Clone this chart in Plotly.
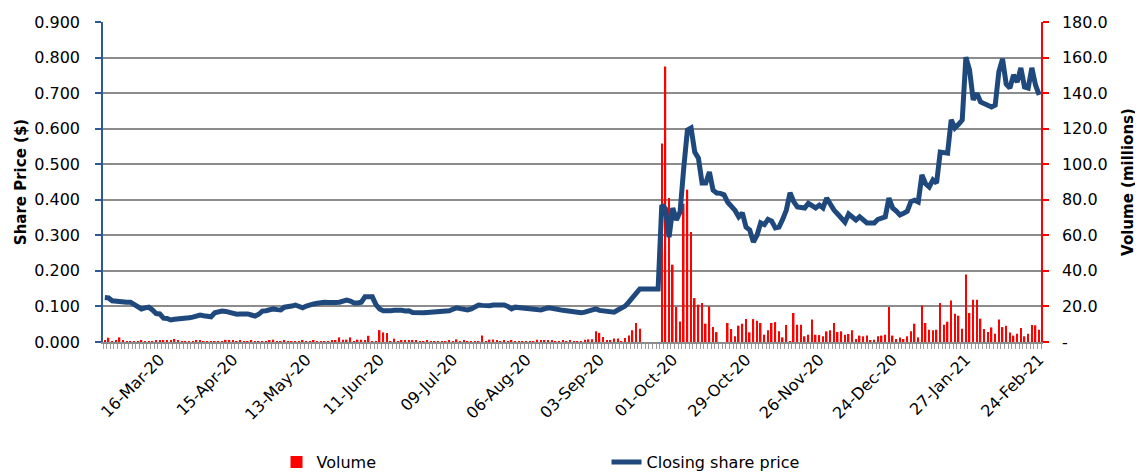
import pandas as pd
import plotly.graph_objects as go

# ASX trading days, 24-Feb-2020 .. 24-Feb-2021
asx_holidays = ["2020-04-10", "2020-04-13", "2020-06-08", "2020-12-25",
                "2020-12-28", "2021-01-01", "2021-01-26"]
trading_days = pd.bdate_range("2020-02-24", "2021-02-24", freq="C", holidays=asx_holidays)
dates = [d.strftime("%d-%b-%y") for d in trading_days]

tick_labels = ["16-Mar-20", "15-Apr-20", "13-May-20", "11-Jun-20", "09-Jul-20",
               "06-Aug-20", "03-Sep-20", "01-Oct-20", "29-Oct-20", "26-Nov-20",
               "24-Dec-20", "27-Jan-21", "24-Feb-21"]

closing_price = [
    0.125, 0.124, 0.116, 0.115, 0.113, 0.110, 0.112, 0.112, 0.105, 0.096,
    0.093, 0.096, 0.098, 0.090, 0.080, 0.079, 0.067, 0.066, 0.062, 0.064,
    0.065, 0.063, 0.066, 0.068, 0.070, 0.072, 0.076, 0.074, 0.071, 0.071,
    0.082, 0.085, 0.087, 0.086, 0.083, 0.079, 0.078, 0.079, 0.080, 0.079,
    0.076, 0.073, 0.078, 0.087, 0.088, 0.092, 0.093, 0.091, 0.090, 0.098,
    0.098, 0.101, 0.104, 0.100, 0.096, 0.101, 0.105, 0.107, 0.109, 0.111,
    0.112, 0.111, 0.110, 0.111, 0.112, 0.115, 0.118, 0.115, 0.110, 0.110,
    0.112, 0.127, 0.128, 0.127, 0.105, 0.093, 0.088, 0.087, 0.088, 0.089,
    0.090, 0.089, 0.087, 0.088, 0.083, 0.082, 0.082, 0.082, 0.083, 0.084,
    0.084, 0.085, 0.084, 0.087, 0.088, 0.092, 0.096, 0.094, 0.093, 0.090,
    0.093, 0.097, 0.104, 0.103, 0.101, 0.102, 0.104, 0.104, 0.105, 0.104,
    0.100, 0.093, 0.098, 0.097, 0.096, 0.096, 0.095, 0.094, 0.092, 0.090,
    0.093, 0.096, 0.095, 0.092, 0.090, 0.089, 0.088, 0.086, 0.084, 0.083,
    0.082, 0.084, 0.087, 0.090, 0.093, 0.089, 0.087, 0.086, 0.085, 0.084,
    0.090, 0.095, 0.101, 0.112, 0.124, 0.138, 0.149, 0.149, 0.149, 0.149,
    0.149, 0.149, 0.385, 0.375, 0.295, 0.377, 0.343, 0.366, 0.490, 0.596,
    0.602, 0.534, 0.517, 0.447, 0.447, 0.478, 0.427, 0.419, 0.418, 0.414,
    0.393, 0.382, 0.370, 0.352, 0.363, 0.323, 0.315, 0.281, 0.300, 0.335,
    0.330, 0.345, 0.340, 0.321, 0.323, 0.345, 0.371, 0.420, 0.395, 0.380,
    0.377, 0.377, 0.390, 0.385, 0.377, 0.385, 0.377, 0.405, 0.385, 0.371,
    0.360, 0.350, 0.337, 0.360, 0.350, 0.343, 0.352, 0.343, 0.335, 0.335,
    0.335, 0.345, 0.349, 0.352, 0.405, 0.377, 0.368, 0.357, 0.362, 0.368,
    0.395, 0.399, 0.394, 0.470, 0.445, 0.436, 0.456, 0.447, 0.534, 0.533,
    0.531, 0.625, 0.602, 0.612, 0.624, 0.801, 0.765, 0.681, 0.700, 0.675,
    0.670, 0.665, 0.661, 0.666, 0.760, 0.796, 0.725, 0.714, 0.751, 0.731,
    0.771, 0.717, 0.714, 0.771, 0.723, 0.695,
]

volume_millions = [
    0.6, 2.4, 0.5, 0.8, 2.6, 0.9, 0.4, 0.3, 0.5, 0.3,
    1.0, 0.4, 0.3, 0.5, 0.8, 0.6, 1.1, 0.7, 0.9, 1.7,
    0.6, 0.5, 0.4, 0.3, 0.5, 0.9, 1.0, 0.4, 0.3, 0.2,
    0.3, 0.3, 0.4, 1.2, 1.0, 0.6, 0.3, 1.1, 0.4, 0.3,
    1.1, 0.4, 0.3, 0.3, 0.5, 1.0, 1.3, 0.5, 0.4, 0.7,
    0.5, 0.3, 0.5, 0.3, 0.9, 0.4, 0.3, 0.6, 0.3, 0.4,
    0.5, 0.3, 0.9, 1.0, 2.6, 1.3, 1.3, 2.6, 0.4, 1.3,
    1.3, 0.6, 3.5, 0.2, 0.3, 6.7, 5.4, 5.0, 0.3, 1.9,
    0.2, 1.0, 0.6, 1.0, 0.9, 0.7, 0.3, 0.4, 0.8, 0.4,
    0.3, 0.2, 0.5, 0.4, 0.9, 0.3, 1.5, 0.4, 0.6, 0.3,
    0.5, 0.4, 0.4, 3.7, 0.5, 1.3, 1.4, 0.8, 0.4, 0.7,
    0.5, 0.6, 0.4, 0.5, 0.4, 0.3, 0.5, 0.4, 1.2, 1.0,
    0.6, 0.7, 0.8, 0.5, 0.4, 1.0, 0.5, 0.6, 0.4, 0.3,
    0.5, 1.2, 1.5, 1.5, 6.0, 5.1, 2.8, 1.0, 1.0, 1.9,
    1.9, 0.3, 2.2, 3.7, 6.6, 10.7, 7.5, 0.0, 0.0, 0.0,
    0.0, 0.0, 111.6, 155.0, 81.0, 43.5, 19.7, 11.6, 77.8, 85.7,
    61.9, 24.7, 21.0, 22.0, 10.3, 20.0, 8.4, 5.6, 0.0, 0.0,
    10.7, 7.3, 3.2, 9.2, 10.3, 12.9, 5.4, 12.9, 12.0, 10.7,
    4.1, 6.6, 10.7, 11.2, 6.0, 2.6, 9.6, 0.4, 16.3, 9.7,
    9.7, 3.2, 4.1, 12.6, 4.1, 3.9, 3.2, 6.0, 6.6, 10.7,
    5.6, 6.0, 4.1, 4.5, 6.6, 1.7, 3.6, 3.2, 3.6, 1.0,
    1.3, 3.2, 3.6, 4.1, 19.7, 3.6, 1.7, 2.6, 1.7, 3.2,
    6.0, 10.3, 2.6, 20.6, 10.7, 6.9, 6.6, 6.9, 21.9, 9.7,
    11.4, 23.4, 15.9, 14.8, 7.5, 37.9, 16.3, 23.8, 23.8, 13.1,
    7.3, 5.6, 8.2, 4.7, 12.6, 8.4, 9.2, 5.4, 3.6, 4.7,
    7.9, 3.2, 4.7, 9.6, 9.4, 6.9,
]

volume_ticks = [0, 20, 40, 60, 80, 100, 120, 140, 160, 180]
volume_tick_text = ["-" if v == 0 else f"{v:.1f}" for v in volume_ticks]

FONT = "DejaVu Sans"
GRID = "#8c8c8c"
LINE_BLUE = "#1F497D"

fig = go.Figure()
fig.add_trace(go.Bar(
    x=dates, y=volume_millions, name="Volume",
    marker=dict(color="#FF0000", line=dict(width=0)),
    width=0.42, yaxis="y",
))
fig.add_trace(go.Scatter(
    x=dates, y=closing_price, name="Closing share price", mode="lines",
    line=dict(color=LINE_BLUE, width=5), yaxis="y2",
))

# page body has an 8px default margin, so the figure is 8px smaller
fig.update_layout(
    width=1135, height=465,
    margin=dict(l=95, r=102, t=14, b=131, autoexpand=False),
    paper_bgcolor="white", plot_bgcolor="white",
    font=dict(family=FONT, size=16, color="black"),
    showlegend=True,
    legend=dict(orientation="h", x=0.185, xanchor="left", y=-0.322, yanchor="top",
                font=dict(size=16), entrywidth=285, bgcolor="rgba(0,0,0,0)"),
    xaxis=dict(
        type="category", categoryorder="array", categoryarray=dates,
        tickmode="array", tickvals=dates,
        ticktext=[d if d in tick_labels else "" for d in dates],
        tickangle=-45, tickson="boundaries",
        ticks="outside", ticklen=5, tickcolor="#9a9a9a", tickwidth=1,
        showline=True, linecolor=GRID, linewidth=2,
        showgrid=False, tickfont=dict(size=16), ticklabelstandoff=0,
    ),
    yaxis=dict(
        side="right", range=[0, 180], tickmode="array",
        tickvals=volume_ticks, ticktext=volume_tick_text,
        showgrid=True, gridcolor=GRID, gridwidth=2, zeroline=False,
        showline=True, linecolor="#FF0000", linewidth=1.5,
        ticks="outside", tickcolor="#FF0000", ticklen=6, tickwidth=1.5,
        ticklabelstandoff=10,
        title=dict(text="Volume (millions)", font=dict(size=15, weight="bold"), standoff=16),
    ),
    yaxis2=dict(
        side="left", overlaying="y", range=[0, 0.9], dtick=0.1, tick0=0,
        tickformat=".3f", showgrid=False, zeroline=False,
        showline=True, linecolor="#2E5A94", linewidth=1.5,
        ticks="outside", tickcolor="#2E5A94", ticklen=6, tickwidth=1.5,
        ticklabelstandoff=12,
        title=dict(text="Share Price ($)", font=dict(size=15, weight="bold"), standoff=4),
    ),
    bargap=0.5,
)

fig.write_html("out.html")
